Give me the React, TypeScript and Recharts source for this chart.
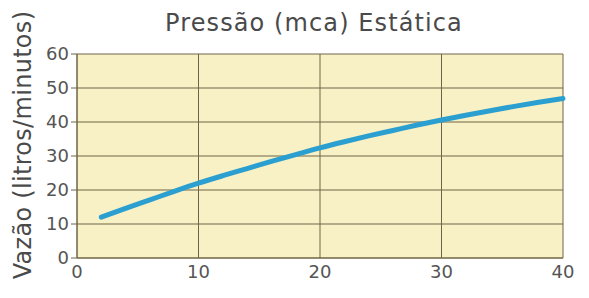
import { CartesianGrid, Line, LineChart, XAxis, YAxis } from "recharts";

const pressao = [2, 4, 6, 8, 10, 12, 14, 16, 18, 20, 22, 24, 26, 28, 30, 32, 34, 36, 38, 40];
const vazao = [12, 14.6, 17.1, 19.6, 22, 24.2, 26.3, 28.4, 30.4, 32.4, 34.2, 35.9, 37.5, 39.1, 40.6, 42, 43.3, 44.6, 45.8, 46.9];
const xTicks = [0, 10, 20, 30, 40];
const yTicks = [0, 10, 20, 30, 40, 50, 60];

const data = pressao.map((p, i) => ({ pressao: p, vazao: vazao[i] }));

const font = "'DejaVu Sans', sans-serif";
const textColor = "#555555";
const gridColor = "#6e6546";

export default function App() {
  return (
    <div style={{ position: "absolute", left: 0, top: 0, width: 589, height: 298, background: "#fff", fontFamily: font }}>
      <div
        style={{
          position: "absolute",
          top: 9,
          left: 314,
          transform: "translateX(-50%)",
          whiteSpace: "nowrap",
          fontSize: 24,
          letterSpacing: 1.1,
          color: "#4a4a4a",
          lineHeight: "28px",
        }}
      >
        Pressão (mca) Estática
      </div>
      <div
        style={{
          position: "absolute",
          left: 23,
          top: 145,
          transform: "translate(-50%, -50%) rotate(-90deg)",
          whiteSpace: "nowrap",
          fontSize: 24,
          letterSpacing: 0.3,
          color: "#4a4a4a",
          lineHeight: "28px",
        }}
      >
        Vazão (litros/minutos)
      </div>
      <LineChart width={589} height={298} data={data} margin={{ top: 54, right: 26, bottom: 10, left: 0 }}>
        <CartesianGrid fill="#f8f1c6" stroke={gridColor} strokeWidth={1} />
        <XAxis
          dataKey="pressao"
          type="number"
          domain={[0, 40]}
          ticks={xTicks}
          interval={0}
          height={30}
          tick={{ fill: textColor, fontSize: 18, fontFamily: font }}
          axisLine={{ stroke: gridColor }}
          tickLine={false}
          tickMargin={1}
        />
        <YAxis
          type="number"
          domain={[0, 60]}
          ticks={yTicks}
          interval={0}
          width={77}
          tick={{ fill: textColor, fontSize: 18, fontFamily: font }}
          axisLine={{ stroke: gridColor }}
          tickLine={{ stroke: gridColor }}
          tickSize={6}
          tickMargin={2}
        />
        <Line
          dataKey="vazao"
          type="monotone"
          stroke="#2b9fd0"
          strokeWidth={5}
          strokeLinecap="round"
          dot={false}
          isAnimationActive={false}
        />
      </LineChart>
    </div>
  );
}
